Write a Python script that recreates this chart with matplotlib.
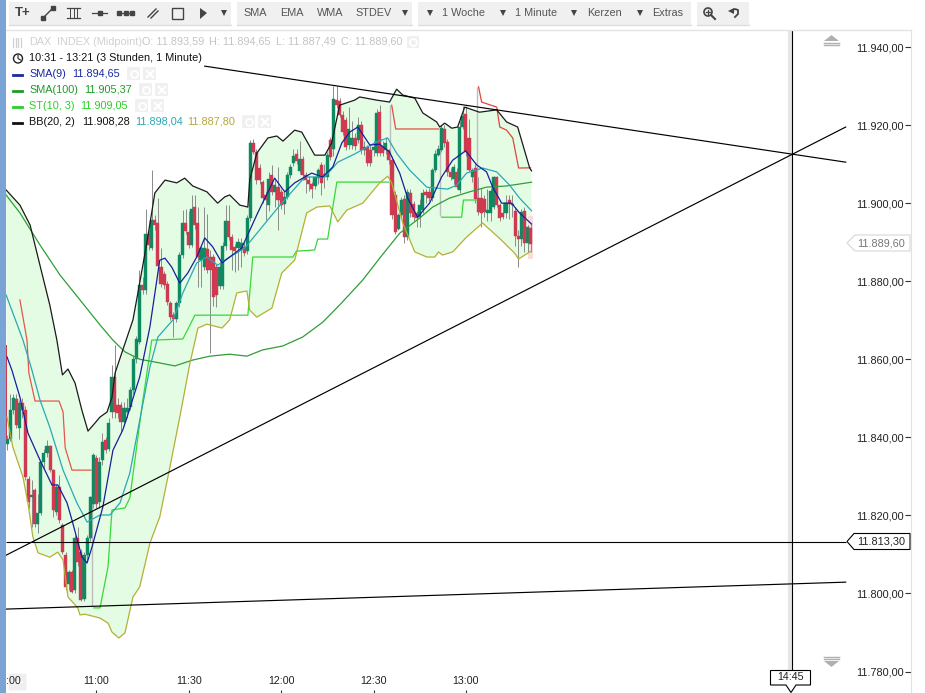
import matplotlib
matplotlib.use("Agg")
import numpy as np
import matplotlib.pyplot as plt
from matplotlib.patches import Rectangle, Polygon, FancyBboxPatch, Circle

plt.rcParams['font.family'] = ['Liberation Sans', 'DejaVu Sans']

# all prices below are written minus 11.000, x is the bar number (0 = 10:31)
base = 11000

opens = [838.4,839.7,847,849.7,842.3,848.7,847,829.4,824.8,826.4,
         817.9,820.5,833.7,835.9,837.7,831.6,820.9,827.3,817.5,809.8,
         802.5,805.5,800.8,814.1,810.7,798.7,809.8,814.1,823,834.6,
         823.5,834.1,839.3,837.1,846.5,855.5,848.3,848.3,844,846.6,
         847.8,852.1,860,864.5,879,877.7,892,888.6,895.8,894.8,
         883.7,881.8,879.4,874.4,871.3,870.2,874.3,886.7,894.8,892.6,
         889.2,899,894.8,885.4,883.7,888.2,886.2,886.2,883.7,878.7,
         878.7,889,895.4,891.2,888.8,888.4,888,888.8,887.8,896.1,
         915.3,913.1,909,905.5,902,899.5,907.3,902.9,904.2,902.9,
         899.7,901.6,907.3,910.3,912.5,908.3,911.2,907.2,905.9,905,
         904.3,906.4,909.7,907.5,906.7,916.1,913.8,926.4,926.2,922.6,
         921.3,914.9,915,916.6,916.2,920,913.6,914.5,913.6,913.6,
         912.8,923.4,914.6,913.6,913.6,911,902.1,893.5,896.9,901,
         891.4,902.7,899.9,897.4,896.5,898.2,902.9,902.9,901.2,908.5,
         912.4,913.6,918.9,915.7,908,906.3,908,903.4,919.6,922.9,
         916.6,906.6,909,901.2,901.2,901,897.4,897.6,899.1,906.6,
         899.5,897.4,897.4,900.8,899.6,898,891.6,890.7,898.1,889.9,
         893.59]
closes = [839.7,847,850.2,843.1,848.7,847,829.9,823.5,825.2,817.9,
          820.5,833.7,836.1,837.7,831.6,821.3,827.3,818.8,810.7,801.7,
          805.5,800.4,814.1,808.1,798.3,809.8,814.1,824.7,835.4,823,
          833.7,838.8,836.7,843.8,855.5,846.5,846.2,844,847.5,847.5,
          852.1,860,865.3,879,877.7,892,889.2,895.8,894.3,883.8,
          879.2,879,874.7,870.9,870.2,874.3,886.8,894.8,892.8,889.2,
          898.4,894.3,886.2,888.4,888.6,883,882.8,876,876.4,883.7,
          889,895.4,891.2,888.1,887.8,890.1,889.9,887.3,896.1,915.3,
          913.1,905.9,905.9,901.2,900.8,906.3,902.9,904.6,900.8,899.5,
          901.6,907.3,909.3,912,910.7,911.2,907.2,905.9,904.9,903.7,
          906.6,908.6,905.2,907.2,912.3,911.7,926.7,925.1,922.6,918.3,
          914.5,918.9,916.6,914.6,920,913.6,914.5,910.2,910.2,914.5,
          923,912.8,912.8,915.3,911,896.9,892.7,896.9,900.8,891.4,
          902.9,897.4,896.5,896.1,899.5,902.5,902,901.2,908.5,912.6,
          914,919.2,915.3,908,906.8,909.3,904.2,919.6,922.3,913.2,
          908.5,908.5,901,897.8,897.6,897.8,898.3,903,906.6,899.5,
          896.1,896.4,900,899.8,899.9,891.6,890.7,897.8,889.9,893.8,
          889.60]
highs = [840.5,851.2,851.2,851,849.5,850,848,830,829,827,
         825.5,834,837,839.3,838,832,828,830.3,818,810.5,
         806,806,815,817,811.5,810.5,815,825,836,835.5,
         835,841,840,845,858.5,863.6,850,849,849,850,
         853,861,866,882.8,881,898.6,893,908.4,897,901.2,
         888.4,882.5,880,875,872,875,887.5,898.2,898.5,898,
         902,902,899,889,899,897.3,888,887,884.5,885,
         890,899.5,899.5,892,889.5,891,891,890,897,916.1,
         916.5,914,910,906,903,908,909.7,906,909.3,903.5,
         903,908,910,914,914,916,912,908,907,905.5,
         907,909,910.5,910,913,917,930,930,927,923.5,
         922,924.7,921,918,922,921,916,915,915,916,
         924,925.1,916,917,914,912,903,897.5,901.5,902,
         903.5,903.5,900.5,898,901,903.5,903.5,904,909,913.5,
         915,920,920,916.5,909,910,909,921,925,925,
         921.5,909,910,906.8,904,902,903.5,904,907,907,
         900,900,902,902,902,899,893,898.5,899,894.5,
         894.65]
lows = [836.7,839,846,842.5,839.7,845,829,822,817,817,
        815.4,820,832,835,831,819.6,820,818,810,801,
        801,800,800,807,798,798,808,813.5,822,822,
        822,833,836,836.5,845,845,845,841,843,845,
        847,851,859,864,876.8,876.8,888,888,893,883,
        878.5,878,874,870,865.6,869.5,873.5,886,892,888.5,
        888.7,893.5,878.5,878.5,883,882,861.5,873.7,873.5,878,
        878,888,890.5,882.8,882.4,882.8,883.7,886.5,887,895.5,
        912.5,905,905,900,895.6,898,902,899,893.1,898.6,
        897.3,901,906.5,909.5,910,907.5,906,902.5,903,901.2,
        903.5,905,902,904,906,911,912,924.5,922,917.5,
        913.7,914,914,913.5,915.5,912.5,912.3,909.5,909.5,912,
        912,912,912,912.5,910,896,892,893,896,889.7,
        890.5,896.5,895.5,894,894,897.5,900,900.5,900.5,908,
        912,913,914.5,907,906,905,903.5,902.5,919,912,
        908,905.5,900,897,894,896.5,895.3,895.3,898.5,899,
        895.5,896,896.1,896,896.5,888.9,883.7,888.9,887.5,887.5,
        887.49]

# candle from 10:30, only its edge is still in view
edge_open, edge_close = 863.6, 839.3

bb_up_x = [-0.3,4.2,7.5,10.7,13.9,16.2,18,19.8,22.1,24.3,26.3,28.6,30.2,32.5,34.1,35.1,37.6,40.9,42.5,45.4,48,51.3,55.1,57.7,60.3,64.9,68.4,70.7,72.3,75.6,78.2,78.8,81.1,84.7,87.6,89.6,93.4,95.7,99.9,103.2,105.4,108,112.9,114.5,120,124.2,126.5,128.5,132.4,135,139.5,140.5,142.1,144.4,146.3,148.6,153.4,159,162.2,165.8,169.7,170.3]
bb_up = [903.4,899.5,894.4,884.1,873.9,864.9,856,857.5,853.9,847,841.6,843.7,845.2,846.5,850.3,856.5,862.4,870.1,877,889.8,902.6,905.9,905.2,906.4,904.4,902.9,900,901.6,902.1,899.5,899,905.9,912.8,916.7,917.2,915.9,918.7,918.2,912.3,912.3,915.4,925.1,926.4,927.2,926.4,925.9,929.2,927.7,926.9,923.1,920.8,919.5,920.5,919.2,919.5,924.6,923.3,923.9,920.8,919.5,909,908.28]
bb_lo_x = [0,1.9,5.2,6.8,8.4,10.1,13.9,16.5,18.2,19.8,23,23.7,25.3,30.2,32.8,34.1,36.3,38.3,40.9,43.1,46.4,49.6,52.9,56.1,59.4,62,64.9,69.8,72.3,74.6,77.9,78.8,81.1,86,89.2,93.4,97.3,100.6,104.8,107.4,110.3,115.5,121,123.6,124.9,128.5,132.4,136.3,138.9,140.1,141.4,144.7,149.2,154.4,159.9,164.8,166.1,170.3]
bb_lo = [845.2,837.5,829.8,823.2,814.5,810.4,809.3,810.6,808.6,799.1,796.3,794.5,794.7,793.7,792.4,790.1,788.6,789.9,799.1,801.7,812.9,819.6,832.4,845.2,859,868,869,868,870.1,877,877.5,872.6,870.8,873.1,882.1,885.4,897.5,899,899.3,895.2,898.2,900,905.2,906.9,905.2,894.9,887.5,886.2,886.2,887.5,886.7,887.5,891.3,894.9,891,887.2,885.7,887.8]
bb_mid_x = [-0.3,5.2,8.1,10.7,13.9,18.2,22.7,26,30.2,33.4,36.7,39.9,43.1,46.4,49,53.9,57.1,61.6,64.9,68.4,71.7,77.2,84.7,89.2,96.7,103.2,107.4,112.9,120,123.6,126.5,130.7,136.3,143.1,146,149.2,154.4,159,163.2,166.4,170.3]
bb_mid = [876.5,864.9,857.2,849.6,842.6,831.6,823.2,818.3,820.1,820.1,823.2,830.9,844.4,858,865.7,870.1,877,884.7,886.2,884.1,885.9,888.5,895.7,900,906.7,906.7,910.5,912.6,915.7,916.7,912.8,908.5,904.1,903.6,904.6,907.7,909,908,904.6,901.3,898.04]
sma9_x = [0,1.6,4.2,6.8,10.7,14.6,16.5,19.5,21.1,24.3,26,27.6,31.1,34.4,37.6,39,43.1,46.4,49.6,51.3,53.5,56.1,58.7,61.6,64.2,66.8,69.8,72.3,76.2,81.4,86.9,90.2,93.4,98.9,102.5,105.8,108.7,111.3,113.9,117.8,121,124.2,127.5,130.1,133.3,137.2,141.1,144.7,148.9,152.5,155.7,157.7,160.6,163.8,166.4,170.3]
sma9 = [860.6,857.2,850.3,841.1,834.2,827.8,827.8,823.2,818.8,809.4,807.8,811.9,822.1,836.7,841.9,845.2,855.5,868.3,885.4,885.9,883.6,879.5,882.1,886.2,891.1,888.8,884.7,886.2,888.5,897.5,906.4,902.9,905.2,907.7,906.7,909.3,915.4,918.2,919.5,914.9,915.1,913.1,907.7,901.3,896.4,900,906.7,911,913.4,909.8,908,904.1,900,900,897.5,894.65]
sma100_x = [-0.3,4.2,10.7,17.2,23.7,30.2,34.4,38.3,43.1,48,54.5,60.3,65.9,72.3,77.9,83,89.5,96,102.5,108,115.5,121,127.5,134,138.2,143.7,150.2,155.7,162.2,170.3]
sma100 = [902.1,897.5,889.3,881.6,875.2,868.8,864.9,861.9,860,859.3,858.3,859.8,860.8,861.3,860.8,862.4,863.4,865.7,869.5,873.9,880.3,885.9,892.3,896.2,899,901.3,902.9,904.1,904.4,905.37]

# SuperTrend, one piece per side, grey where it flips
st_red_1_x = [4.2,6.5,7.1,9.1,16.9,18.2,18.9,21.1,27.3]
st_red_1 = [875.2,864.9,856.5,849.3,849.3,846.5,837.3,831.6,831.6]
st_green_1_x = [28.2,30.2,32.8,34.1,38.3,39.9,43.8,47,57.1,58.4,61,78.2,79.8,92.8,94,99.9,100.9,104.1,107.1,123.9]
st_green_1 = [796.3,796.3,806.8,821.4,821.9,824.5,847.8,864.9,865.2,867.2,871.3,871.3,886.2,886.2,887.7,888,890.8,890.8,905.4,905.4]
st_red_2_x = [124.9,126.2,140.1]
st_red_2 = [925.1,919,919]
st_green_2_x = [141.1,147.6,148.2,152.5]
st_green_2 = [896.4,896.4,900.8,900.8]
st_red_3_x = [153.1,154.1,159,160,162.2,164.2,166.1,170]
st_red_3 = [929.8,925.9,924.6,919.5,918.7,916.7,909,909.05]
st_flip_x = [27.6,124.5,140.5,152.6]
st_flip_lo = [796.8,905.4,896.7,900.8]
st_flip_hi = [831.6,925.1,919,929.8]

# drawn trend lines (bar, price)
trend_x = [[64.2, 272.3], [-0.3, 272.3], [-0.3, 272.3]]
trend_y = [[935.1, 910.5], [809.8, 919.5], [796.0, 802.9]]
level_price = 813.30
cross_bar = 254.9

price_ticks = [780, 800, 820, 840, 860, 880, 900, 920, 940]
price_labels = ['11.780,00', '11.800,00', '11.820,00', '11.840,00', '11.860,00',
                '11.880,00', '11.900,00', '11.920,00', '11.940,00']
time_ticks = [29, 59, 89, 119, 149]
time_labels = ['11:00', '11:30', '12:00', '12:30', '13:00']

W, H = 925, 693
fig = plt.figure(figsize=(W / 100, H / 100), dpi=100)

ax = fig.add_axes([6 / W, 0, (911 - 6) / W, (H - 30) / H])
ax.set_xlim(-0.32, 293.5)
ax.set_ylim(base + 774.5, base + 944.36)

bars = np.arange(len(opens))
o = np.array(opens) + base
c = np.array(closes) + base
up = c >= o

# band fill
poly_x = bb_up_x + bb_lo_x[::-1]
poly_y = [v + base for v in bb_up] + [v + base for v in bb_lo[::-1]]
ax.fill(poly_x, poly_y, color='#e4fce4', lw=0, zorder=1)

# last candle highlight
ax.bar(170, 11.0, bottom=base + 885.7, width=1.4, color='#f8dcdc', zorder=1.5)

ax.vlines(bars, np.array(lows) + base, np.array(highs) + base, color='#8a8a8a', lw=0.7, zorder=2)
ax.bar(bars[up], (c - o)[up], bottom=o[up], width=1.0, color='#0e8a62', ec='#0e8a62', lw=0.3, zorder=3)
ax.bar(bars[~up], (c - o)[~up], bottom=o[~up], width=1.0, color='#cf3a50', ec='#cf3a50', lw=0.3, zorder=3)
ax.bar(-0.3, edge_close - edge_open, bottom=base + edge_open, width=0.5, color='#cf3a50', zorder=3)

ax.vlines(st_flip_x, np.array(st_flip_lo) + base, np.array(st_flip_hi) + base, color='#bdbdbd', lw=1.0, zorder=2.5)


def line(xs, ys, col, lw=0.9, z=4):
    ax.plot(xs, np.array(ys) + base, color=col, lw=lw, zorder=z, solid_joinstyle='round')


line(st_red_1_x, st_red_1, '#e4574a')
line(st_red_2_x, st_red_2, '#e0503f')
line(st_red_3_x, st_red_3, '#e0443c')
line(st_green_1_x, st_green_1, '#38d838')
line(st_green_2_x, st_green_2, '#38d838')
line(sma100_x, sma100, '#2f9e36')
line(bb_lo_x, bb_lo, '#b4b034')
line(bb_mid_x, bb_mid, '#2aa8b4')
line(bb_up_x, bb_up, '#1a1a1a')
line(sma9_x, sma9, '#17209c')

for xs, ys in zip(trend_x, trend_y):
    line(xs, ys, '#000000', lw=0.85, z=5)
ax.hlines(base + level_price, -0.32, 272.3, color='black', lw=0.8, zorder=5)

# crosshair at 14:45 with its pale shadow
ax.vlines(cross_bar - 0.6, base + 780, base + 944.36, color='#e6e6e6', lw=3, zorder=0.5)
ax.vlines(cross_bar, base + 778, base + 944.36, color='black', lw=0.8, zorder=5)

ax.set_yticks([v + base for v in price_ticks])
ax.set_yticklabels(price_labels, ha='right', fontsize=7.8, color='#222222')
ax.yaxis.tick_right()
ax.tick_params(axis='y', direction='in', length=4, width=0.8, pad=-5, color='#333333')
ax.set_xticks(time_ticks)
ax.set_xticklabels(time_labels, fontsize=7.7, color='#222222')
ax.tick_params(axis='x', direction='in', length=2.5, width=0.8, pad=-12.5, color='#333333')
for side in ['top', 'left', 'bottom']:
    ax.spines[side].set_visible(False)
ax.spines['right'].set_color('#e2e2e2')

# everything around the chart, in screen pixels
ui = fig.add_axes([0, 0, 1, 1], facecolor='none')
ui.set_xlim(0, W)
ui.set_ylim(H, 0)
ui.axis('off')
ui.add_patch(Rectangle((0, 0), 6, H, color='#7aa3d6', lw=0))
ui.plot([6, 911], [29.5, 29.5], color='#e3e3e3', lw=1)

for x0, x1 in [(9, 231), (237, 412), (418, 691), (697, 749)]:
    ui.add_patch(Rectangle((x0, 2), x1 - x0, 23, color='#f0f0f0', lw=0))
    ui.plot([x0, x1], [25.3, 25.3], color='#dcdcdc', lw=0.9)

toolbar = [('SMA', 255), ('EMA', 292), ('WMA', 330), ('STDEV', 374),
           ('1 Woche', 464), ('1 Minute', 536), ('Kerzen', 604), ('Extras', 668)]
for name, x in toolbar:
    ui.text(x, 13.3, name, ha='center', va='center', fontsize=7.8, color='#555555')
for x in [224, 405, 430, 503, 574, 640]:
    ui.plot(x, 13, marker='v', ms=5, color='#444444', mew=0)

dark = '#444444'
ui.text(23, 13.5, 'T+', ha='center', va='center', fontsize=9.5, fontweight='bold', color=dark)
ui.plot([43, 53], [18, 8], color=dark, lw=1)
ui.plot([43, 53], [18, 8], ls='', marker='s', ms=2.5, color=dark)
ui.plot([67, 80], [8, 8], color=dark, lw=0.9)
ui.plot([67, 80], [18, 18], color=dark, lw=0.9)
for x in [70, 73.5, 77]:
    ui.plot([x, x], [8, 18], color=dark, lw=0.7)
ui.plot([92, 107], [13, 13], color=dark, lw=0.9)
ui.plot(100, 13, marker='s', ms=3, color=dark)
ui.plot([118, 133], [13, 13], color=dark, lw=0.9)
ui.plot([119, 125.5, 132], [13, 13, 13], ls='', marker='s', ms=2.5, color=dark)
ui.plot([148, 156], [17, 9], color=dark, lw=1)
ui.plot([151, 158], [18, 11], color=dark, lw=1)
ui.add_patch(Rectangle((172, 8), 11, 11, fc='none', ec=dark, lw=1))
ui.add_patch(Polygon([(200, 8), (207, 13), (200, 19)], color=dark, lw=0))
ui.add_patch(Circle((708, 12), 4, fc='none', ec=dark, lw=1.2))
ui.plot([711, 715], [15, 19], color=dark, lw=1.5)
ui.plot([706, 710], [12, 12], color=dark, lw=0.9)
ui.plot([708, 708], [10, 14], color=dark, lw=0.9)
ui.plot([731, 735, 738, 738, 735], [11, 9, 10, 14, 17], color=dark, lw=1.3)
ui.plot(731, 11, marker='<', ms=4, color=dark, mew=0)

fs = 7.8
grey = '#c4c4c4'
ui.text(29, 42, 'DAX', va='center', fontsize=fs, color='#d0d0d0')
ui.text(57, 42, 'INDEX (Midpoint)', va='center', fontsize=fs, color='#d0d0d0')
ui.text(142, 42, 'O: 11.893,59', va='center', fontsize=fs, color=grey)
ui.text(209, 42, 'H: 11.894,65', va='center', fontsize=fs, color=grey)
ui.text(276, 42, 'L: 11.887,49', va='center', fontsize=fs, color=grey)
ui.text(341, 42, 'C: 11.889,60', va='center', fontsize=fs, color=grey)
ui.text(29, 58, '10:31 - 13:21 (3 Stunden, 1 Minute)', va='center', fontsize=fs, color='#111111')
ui.add_patch(Circle((18, 58.5), 4.5, fc='none', ec='#222222', lw=1))
ui.plot([18, 18, 20.5], [55.5, 58.5, 60], color='#222222', lw=0.8)
for x in [13, 15.5, 18, 20.5]:
    ui.plot([x, x], [38, 47], color='#d0d0d0', lw=0.9)

rows = [(74, '#1a2a9c', [('SMA(9)', 29), ('11.894,65', 72.5)], [127, 143]),
        (90, '#1d9a28', [('SMA(100)', 29), ('11.905,37', 84)], [139, 155]),
        (106, '#27d027', [('ST(10, 3)', 29), ('11.909,05', 80)], [135, 151]),
        (122, '#111111', [('BB(20, 2)', 29), ('11.908,28', 82)], [242, 258])]
for y, col, texts, buttons in rows:
    ui.plot([13, 22], [y + 1, y + 1], color=col, lw=2)
    for t, x in texts:
        ui.text(x, y, t, va='center', fontsize=fs, color=col)
    for b in buttons:
        ui.add_patch(FancyBboxPatch((b + 1, y - 6), 11, 11, boxstyle='round,pad=1',
                                    fc='#f0f0f0', ec='none', zorder=6))
    ui.plot(buttons[0] + 6.5, y - 0.5, marker='o', ms=5, mfc='none', mec='white', mew=1.3, zorder=7)
    ui.plot(buttons[1] + 6.5, y - 0.5, marker='x', ms=6, color='white', mew=1.6, zorder=7)
ui.text(135, 122, '11.898,04', va='center', fontsize=fs, color='#2aa8b4')
ui.text(187, 122, '11.887,80', va='center', fontsize=fs, color='#b4a93a')
ui.add_patch(FancyBboxPatch((408, 37), 10, 10, boxstyle='round,pad=1', fc='#f0f0f0', ec='none'))
ui.plot(413, 42, marker='o', ms=5, mfc='none', mec='white', mew=1.3)

# price tags on the axis
ui.add_patch(Polygon([(910, 235), (855, 235), (847, 243), (855, 251), (910, 251)],
                     fc='white', ec='#d6d6d6', lw=0.8, zorder=6))
ui.text(881, 243, '11.889,60', ha='center', va='center', fontsize=7.8, color='#777777', zorder=7)
ui.add_patch(Polygon([(910, 533.5), (854, 533.5), (847, 541.5), (854, 549.5), (910, 549.5)],
                     fc='white', ec='black', lw=0.8, zorder=6))
ui.text(881, 541.5, '11.813,30', ha='center', va='center', fontsize=7.8, color='#222222', zorder=7)
ui.add_patch(Polygon([(770.5, 670.5), (810.5, 670.5), (810.5, 685), (796, 685), (791, 692.5), (786, 685), (770.5, 685)],
                     fc='white', ec='black', lw=0.8, zorder=6))
ui.text(790.5, 677.5, '14:45', ha='center', va='center', fontsize=7.7, color='#222222', zorder=7)

# scroll arrows
ui.add_patch(Polygon([(824, 41), (839, 41), (831.5, 35)], color='#b0b0b0', lw=0))
ui.plot([824, 839], [43, 43], color='#b0b0b0', lw=1)
ui.plot([824, 839], [45, 45], color='#b0b0b0', lw=1)
ui.add_patch(Polygon([(824, 661), (839, 661), (831.5, 667)], color='#b0b0b0', lw=0))
ui.plot([824, 839], [657, 657], color='#b0b0b0', lw=1)
ui.plot([824, 839], [659, 659], color='#b0b0b0', lw=1)

# cut off time label and the little button on top of it
ui.add_patch(FancyBboxPatch((10, 675), 15, 14, boxstyle='round,pad=1.5', fc='#ececec', ec='none', alpha=0.8, zorder=6))
ui.plot([14, 22], [681.5, 681.5], color='white', lw=1.5, zorder=7)
ui.text(6, 681, ':00', va='center', fontsize=7.7, color='#222222', zorder=8)

fig.savefig('out.png', dpi=100)
